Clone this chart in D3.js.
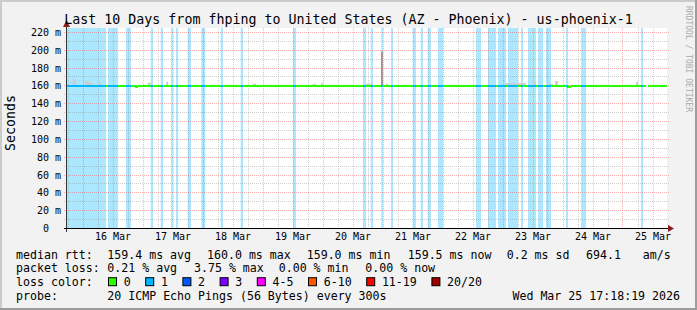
<!DOCTYPE html>
<html>
<head>
<meta charset="utf-8">
<script src="https://cdn.jsdelivr.net/npm/d3@7"></script>
<style>
  body { margin: 0; background: #f2f2f2; }
  svg { display: block; }
  text { font-family: "DejaVu Sans Mono", monospace; fill: #000; }
</style>
</head>
<body>
<svg id="chart"></svg>
<script>
// ---- data ----
const title = "Last 10 Days from fhping to United States (AZ - Phoenix) - us-phoenix-1";
const startTime = new Date(Date.UTC(2026, 2, 15, 17, 48));
const endTime = new Date(Date.UTC(2026, 2, 25, 17, 48));

// periods with 1/20 pings lost, hours since startTime
const lossSpans = [
  [0, 15.6], [16.4, 20.4], [23.6, 25.6], [33.5, 34.4], [37.5, 38.4], [41.6, 42.4],
  [43.6, 44.4], [48.3, 49.6], [53.7, 55.3], [61.5, 62.4], [69.5, 70.4], [90.4, 91.6],
  [118.4, 119.6], [121.5, 122.4], [125.7, 126.4], [129.6, 130.4], [138.3, 139.6],
  [141.5, 142.4], [144.3, 145.6], [148.4, 150.4], [163.6, 165.6], [168.4, 171.6],
  [172.4, 175.6], [176.4, 180.4], [181.6, 182.4], [184.4, 187.6], [188.4, 190.4],
  [191.6, 193.6], [199.6, 200.4], [205.6, 207.6], [229.6, 230.4]
];

// median rtt in ms (step series), hours since startTime; null = unknown
const medianHours = [0, 27.6, 28.4, 200.4, 201.6, 231.6, 232.4, 240];
const medianMs = [159.4, 158.3, 159.4, 158.3, 159.4, null, 159.4, 159.4];

// smoke (ping spread above the median): hour spans and top value in ms
const smokeSpans = [
  [2.3, 3.6], [7.2, 8.9], [8.9, 10.3], [12.3, 13.6], [32.3, 33.6], [39.6, 40.4],
  [74.3, 75.6], [98.3, 99.6], [101.6, 102.3], [119.6, 122.3], [125.6, 126.4],
  [127.6, 128.4], [175.6, 183.6], [186.3, 187.6], [191.6, 194.4], [195.3, 196.4],
  [227.6, 228.4]
];
const smokeTop = [167, 165, 163, 162, 163, 164, 161.8, 161.8, 163, 162, 198, 162,
  162.5, 164, 161.8, 165, 164];

const yTicks = [0, 20, 40, 60, 80, 100, 120, 140, 160, 180, 200, 220];

const rttStats = ["159.4 ms avg", "160.0 ms max", "159.0 ms min", "159.5 ms now", "0.2 ms sd", "694.1", "am/s"];
const lossStats = ["0.21 % avg", "3.75 % max", "0.00 % min", "0.00 % now"];
const lossLabels = ["0", "1", "2", "3", "4-5", "6-10", "11-19", "20/20"];
const lossColors = ["#26ff00", "#00b8ff", "#0059ff", "#7e00ff", "#ff00ff", "#ff5500", "#ff0000", "#a00000"];
const probeText = "20 ICMP Echo Pings (56 Bytes) every 300s";
const stampText = "Wed Mar 25 17:18:19 2026";

// ---- layout ----
const W = 697, H = 310;
const plot = { left: 67, right: 667, top: 28, bottom: 228 };
const charW = 7;

const svg = d3.select("#chart").attr("width", W).attr("height", H);

const x = d3.scaleUtc().domain([startTime, endTime]).range([plot.left, plot.right]);
const y = d3.scaleLinear().domain([0, 224.4]).range([plot.bottom, plot.top]);
const hx = h => x(new Date(+startTime + h * 3600e3));
const px = v => Math.round(v) + 0.5;

// frame
svg.append("rect").attr("width", W).attr("height", H).attr("fill", "#f2f2f2");
svg.append("rect").attr("width", W).attr("height", 2).attr("fill", "#cbcbcb");
svg.append("rect").attr("width", 2).attr("height", H).attr("fill", "#cbcbcb");
svg.append("rect").attr("x", W - 2).attr("width", 2).attr("height", H).attr("fill", "#9c9c9c");
svg.append("rect").attr("y", H - 2).attr("width", W).attr("height", 2).attr("fill", "#9c9c9c");

// canvas
svg.append("rect")
  .attr("x", plot.left).attr("y", plot.top)
  .attr("width", plot.right - plot.left).attr("height", plot.bottom - plot.top)
  .attr("fill", "#fff");

// loss background
svg.append("g").selectAll("rect")
  .data(lossSpans)
  .enter().append("rect")
  .attr("x", d => hx(d[0]))
  .attr("y", plot.top)
  .attr("width", d => hx(d[1]) - hx(d[0]))
  .attr("height", plot.bottom - plot.top)
  .attr("fill", "#abe7ff");

// grid
const grid = svg.append("g").attr("shape-rendering", "crispEdges");
const majorCol = "rgba(255,40,40,0.36)", minorCol = "rgba(130,130,130,0.38)";
const hours6 = d3.utcHour.every(6).range(startTime, endTime);
grid.selectAll(".vgrid")
  .data(hours6)
  .enter().append("line")
  .attr("x1", d => px(x(d))).attr("x2", d => px(x(d)))
  .attr("y1", plot.top).attr("y2", plot.bottom)
  .attr("stroke", d => d.getUTCHours() === 0 ? majorCol : minorCol)
  .attr("stroke-dasharray", "1,1");
grid.selectAll(".hgrid")
  .data(d3.range(10, 221, 10))
  .enter().append("line")
  .attr("x1", plot.left - 3).attr("x2", plot.right + 2)
  .attr("y1", d => px(y(d))).attr("y2", d => px(y(d)))
  .attr("stroke", d => d % 20 === 0 ? majorCol : minorCol)
  .attr("stroke-dasharray", "1,1");

// smoke
svg.append("g").selectAll("rect")
  .data(smokeSpans)
  .enter().append("rect")
  .attr("x", d => hx(d[0]))
  .attr("width", d => hx(d[1]) - hx(d[0]))
  .attr("y", (d, i) => y(smokeTop[i]))
  .attr("height", (d, i) => y(159.4) - y(smokeTop[i]))
  .attr("fill", (d, i) => smokeTop[i] > 180 ? "#a89494" : "#cccccc");

// median line, green, with the 1-loss parts painted blue
const steps = d3.range(medianHours.length - 1).filter(i => medianMs[i] != null);
const defs = svg.append("defs");
defs.append("clipPath").attr("id", "loss-clip")
  .selectAll("rect").data(lossSpans).enter().append("rect")
  .attr("x", d => hx(d[0])).attr("width", d => hx(d[1]) - hx(d[0]))
  .attr("y", plot.top).attr("height", plot.bottom - plot.top);

function drawMedian(g, color) {
  g.selectAll("line")
    .data(steps)
    .enter().append("line")
    .attr("x1", i => hx(medianHours[i]))
    .attr("x2", i => hx(medianHours[i + 1]))
    .attr("y1", i => y(medianMs[i]))
    .attr("y2", i => y(medianMs[i]))
    .attr("stroke", color)
    .attr("stroke-width", 2);
  g.selectAll(".rise")
    .data(steps.filter(i => i + 1 < medianMs.length - 1 && medianMs[i + 1] != null))
    .enter().append("line")
    .attr("x1", i => hx(medianHours[i + 1]))
    .attr("x2", i => hx(medianHours[i + 1]))
    .attr("y1", i => y(medianMs[i]) - 1)
    .attr("y2", i => y(medianMs[i + 1]) + 1)
    .attr("stroke", color)
    .attr("stroke-width", 2);
}
drawMedian(svg.append("g"), lossColors[0]);
drawMedian(svg.append("g").attr("clip-path", "url(#loss-clip)"), lossColors[1]);

// axes
svg.append("line")
  .attr("x1", plot.left - 0.5).attr("x2", plot.left - 0.5)
  .attr("y1", 25).attr("y2", plot.bottom + 4)
  .attr("stroke", "#333");
svg.append("line")
  .attr("x1", plot.left - 3).attr("x2", plot.right + 4)
  .attr("y1", plot.bottom + 0.5).attr("y2", plot.bottom + 0.5)
  .attr("stroke", "#000");
svg.append("path")
  .attr("d", `M${plot.left - 0.5},20 L${plot.left - 4},27 L${plot.left + 3},27 Z`)
  .attr("fill", "#8c1c1c");
svg.append("path")
  .attr("d", `M${plot.right + 7},${plot.bottom + 0.5} L${plot.right + 1},${plot.bottom - 3} L${plot.right + 1},${plot.bottom + 4} Z`)
  .attr("fill", "#8c1c1c");

const yAxis = svg.append("g")
  .attr("transform", `translate(61,0)`)
  .call(d3.axisLeft(y).tickValues(yTicks).tickSize(0).tickPadding(0)
    .tickFormat(d => d ? `${d} m` : "0\u00a0\u00a0"));
yAxis.select(".domain").remove();
yAxis.selectAll("text")
  .attr("x", 0).attr("dy", "0.35em")
  .style("font-family", "DejaVu Sans Mono").style("font-size", "10px").attr("fill", "#000");

const noons = d3.utcDay.range(startTime, endTime).map(d => d3.utcHour.offset(d, 12)).filter(d => d < endTime);
const xAxis = svg.append("g")
  .attr("transform", `translate(0,${plot.bottom})`)
  .call(d3.axisBottom(x).tickValues(noons).tickSize(0).tickPadding(0)
    .tickFormat(d3.utcFormat("%-d %b")));
xAxis.select(".domain").remove();
xAxis.selectAll("text")
  .attr("y", 12).attr("dy", 0)
  .style("font-family", "DejaVu Sans Mono").style("font-size", "10px").attr("fill", "#000");

// title, unit label, watermark
svg.append("text")
  .attr("x", W / 2).attr("y", 24)
  .attr("text-anchor", "middle")
  .style("font-size", "13.3px")
  .text(title);
svg.append("text")
  .attr("transform", "translate(15,123) rotate(-90)")
  .attr("text-anchor", "middle")
  .style("font-size", "13.3px")
  .text("Seconds");
svg.append("text")
  .attr("transform", "translate(686,6) rotate(90)")
  .style("font-size", "8px")
  .style("fill", "#aaaaaa")
  .text("RRDTOOL / TOBI OETIKER");

// legend
const rowY = [258.5, 272.3, 286.2, 300];
const legend = svg.append("g").style("font-size", "11.6px");
const putText = (tx, ty, s) => legend.append("text").attr("x", tx).attr("y", ty).text(s);

putText(16, rowY[0], "median rtt:");
const rttX = [107.3, 207, 306.7, 407.7, 506.7, 586, 642.7];
rttStats.forEach((s, i) => putText(rttX[i], rowY[0], s));

putText(16, rowY[1], "packet loss:");
const lossX = [107.3, 194, 278.7, 365.3];
lossStats.forEach((s, i) => putText(lossX[i], rowY[1], s));

putText(16, rowY[2], "loss color:");
let cx = 108;
lossLabels.forEach((s, i) => {
  legend.append("rect")
    .attr("x", cx + 0.5).attr("y", rowY[2] - 8.5)
    .attr("width", 8).attr("height", 8)
    .attr("fill", lossColors[i]).attr("stroke", "#000");
  putText(cx + 15.7, rowY[2], s);
  cx = cx + 15.7 + s.length * charW + 14.5;
});

putText(16, rowY[3], "probe:");
putText(107.3, rowY[3], probeText);
legend.append("text").attr("x", 680).attr("y", rowY[3]).attr("text-anchor", "end").text(stampText);
</script>
</body>
</html>
